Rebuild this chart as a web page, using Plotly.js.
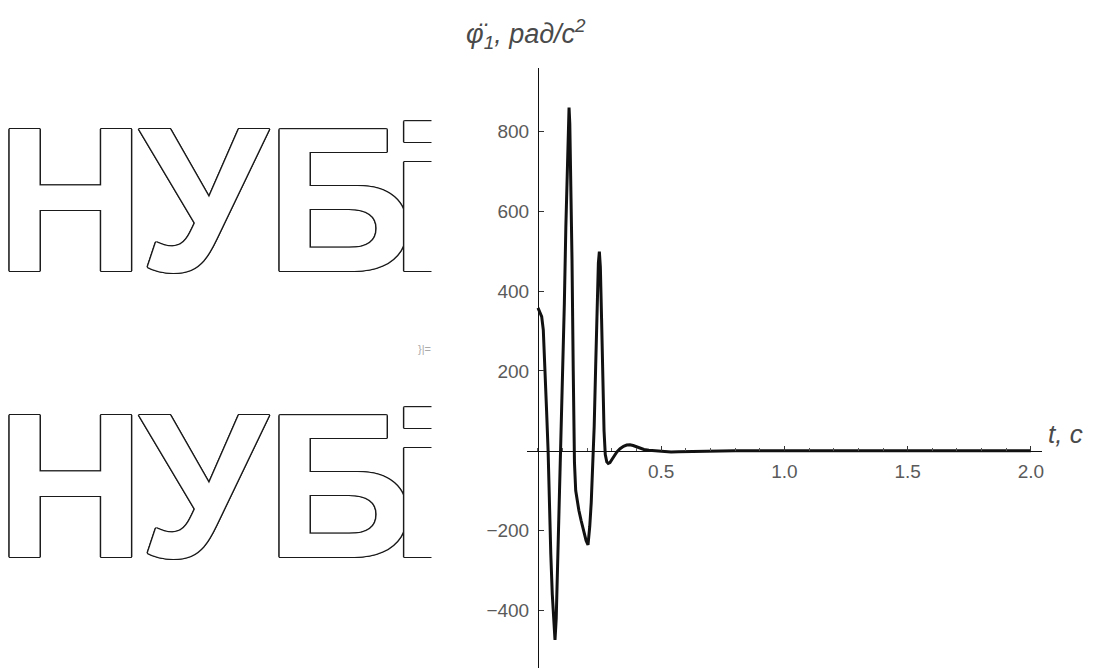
<!DOCTYPE html>
<html>
<head>
<meta charset="utf-8">
<script src="https://cdn.plot.ly/plotly-3.0.1.min.js"></script>
<style>html,body{margin:0;padding:0;background:#fff;}#chart{width:1101px;height:668px;}</style>
</head>
<body>
<div id="chart"></div>
<script>
// time, s
const tValues = [0, 0.004, 0.015, 0.0215, 0.028, 0.035, 0.041, 0.046, 0.052, 0.058, 0.064, 0.069, 0.074, 0.080, 0.087, 0.093, 0.100, 0.107, 0.113, 0.119, 0.123, 0.126, 0.129, 0.133, 0.138, 0.143, 0.148, 0.153, 0.158, 0.166, 0.175, 0.185, 0.195, 0.203, 0.210, 0.216, 0.222, 0.228, 0.234, 0.240, 0.245, 0.249, 0.253, 0.258, 0.263, 0.268, 0.273, 0.279, 0.285, 0.292, 0.300, 0.310, 0.320, 0.333, 0.347, 0.360, 0.373, 0.386, 0.400, 0.415, 0.430, 0.450, 0.470, 0.490, 0.510, 0.540, 0.570, 0.600, 0.630, 0.660, 0.700, 0.800, 1.0, 1.2, 1.5, 1.8, 2.0];
// angular acceleration, rad/s^2
const phiValues = [358, 353, 336, 303, 219, 98, 0, -130, -260, -360, -440, -474, -420, -280, -120, 0, 160, 370, 560, 730, 820, 860, 820, 680, 480, 200, -30, -100, -125, -150, -175, -200, -225, -236, -190, -130, -40, 60, 210, 370, 470, 499, 460, 330, 180, 50, -10, -28, -32, -30, -22, -12, -3, 5, 11, 14, 15, 13, 10, 6, 3, 1, 0, -1, -2, -3, -2.5, -2, -1, -0.5, 0, 0, 0, 0, 0, 0, 0];

const xTickVals = [0.5, 1.0, 1.5, 2.0];
const xTickText = ['0.5', '1.0', '1.5', '2.0'];
const yTickVals = [-400, -200, 200, 400, 600, 800];
const yTickText = ['\u2212400', '\u2212200', '200', '400', '600', '800'];

const yLabel = '<i>\u03c6\u0308<sub>1</sub>, \u0440\u0430\u0434/\u0441<sup>2</sup></i>';
const xLabel = '<i>t, c</i>';
const watermarkLetters = ['\u041d', '\u0423', '\u0411', '\u0456'];
const watermarkRows = [200, 486];          // pixel centre of each watermark row
const letterLeft = [-6, 137, 264, 388];     // pixel left of each letter box

const L = 527, R = 1042, T = 68, B = 668;
function px(x){ return (x - L) / (R - L); }
function py(y){ return (B - y) / (B - T); }

const oc = '#1a1a1a';
const outline = `1.4px 0 0 ${oc}, -1.4px 0 0 ${oc}, 0 1.4px 0 ${oc}, 0 -1.4px 0 ${oc}, 1px 1px 0 ${oc}, -1px -1px 0 ${oc}, 1px -1px 0 ${oc}, -1px 1px 0 ${oc}`;

const trace = {
  x: tValues, y: phiValues, type: 'scatter', mode: 'lines',
  line: {color: '#111', width: 3}, hoverinfo: 'skip', cliponaxis: false
};

const tickFont = {family: 'Liberation Sans, Arial, sans-serif', size: 19, color: '#5a5a5a'};

const annotations = [
  {xref: 'paper', yref: 'paper', x: px(464), y: py(34), xanchor: 'left', yanchor: 'middle',
   text: yLabel, showarrow: false, font: {family: 'Liberation Sans, Arial, sans-serif', size: 27, color: '#4a4a4a'}},
  {xref: 'paper', yref: 'paper', x: px(1046), y: py(434), xanchor: 'left', yanchor: 'middle',
   text: xLabel, showarrow: false, font: {family: 'Liberation Sans, Arial, sans-serif', size: 26, color: '#4a4a4a'}},
  {xref: 'paper', yref: 'paper', x: px(416), y: py(349), xanchor: 'left', yanchor: 'middle',
   text: '}|=', showarrow: false, font: {family: 'Liberation Sans, Arial, sans-serif', size: 11, color: '#aaa'}}
];
watermarkRows.forEach(function(row){
  watermarkLetters.forEach(function(ch, i){
    annotations.push({xref: 'paper', yref: 'paper', x: px(letterLeft[i]), y: py(row), xanchor: 'left', yanchor: 'middle',
      text: ch, showarrow: false,
      font: {family: 'Liberation Sans, Arial, sans-serif', size: 206, weight: 700, color: '#ffffff', shadow: outline}});
  });
  annotations.push({xref: 'paper', yref: 'paper', x: px(431), y: py(row), xanchor: 'left', yanchor: 'middle',
    text: '&nbsp;', width: 45, height: 210, bgcolor: '#ffffff', showarrow: false, font: {size: 10, color: '#fff'}});
});

const layout = {
  width: 1101, height: 668,
  margin: {l: L, r: 1101 - R, t: T, b: 668 - B, pad: 0},
  paper_bgcolor: '#fff', plot_bgcolor: '#fff',
  showlegend: false,
  xaxis: {
    range: [-0.0446, 2.045], anchor: 'free', position: py(450.7),
    showline: true, linecolor: '#111', linewidth: 1.2,
    showgrid: false, zeroline: false,
    ticks: 'inside', ticklen: 5, tickcolor: '#333', tickwidth: 1,
    tickmode: 'array', tickvals: xTickVals, ticktext: xTickText, tickfont: tickFont, ticklabelstandoff: 3,
    minor: {tickmode: 'linear', tick0: 0, dtick: 0.1, ticks: 'inside', ticklen: 3, tickcolor: '#555', showgrid: false}
  },
  yaxis: {
    range: [-544.6, 959], anchor: 'free', position: px(538),
    showline: true, linecolor: '#111', linewidth: 1.2,
    showgrid: false, zeroline: false,
    ticks: 'inside', ticklen: 5, tickcolor: '#333', tickwidth: 1,
    tickmode: 'array', tickvals: yTickVals, ticktext: yTickText, tickfont: tickFont, ticklabelstandoff: 5
  },
  annotations: annotations
};

Plotly.newPlot('chart', [trace], layout, {staticPlot: true, displayModeBar: false});
</script>
</body>
</html>
